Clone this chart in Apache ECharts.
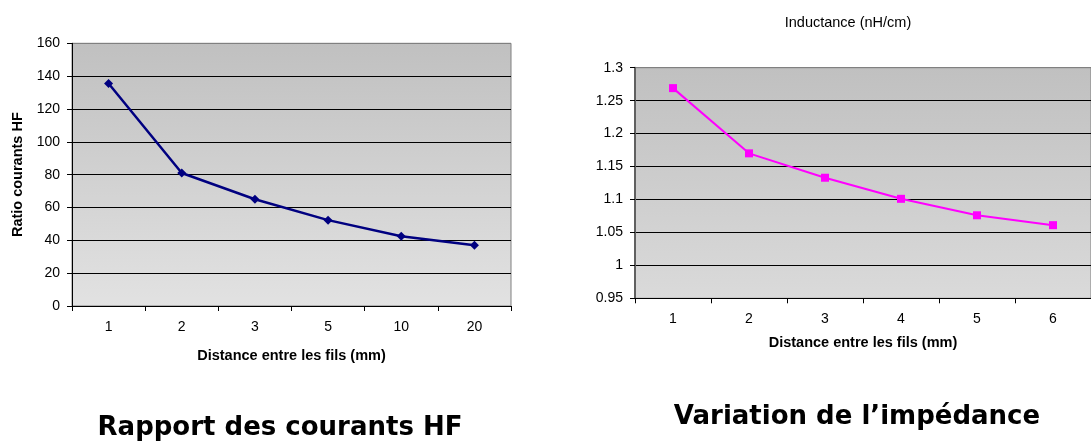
<!DOCTYPE html>
<html>
<head>
<meta charset="utf-8">
<script src="https://cdn.jsdelivr.net/npm/echarts@6/dist/echarts.min.js"></script>
<style>
html,body{margin:0;padding:0;background:#fff;}
#c{width:1091px;height:443px;}
</style>
</head>
<body>
<div id="c"></div>
<script>
const leftCategories = ['1', '2', '3', '5', '10', '20'];
const leftValues = [135.5, 81, 65, 52.3, 42.5, 37];
const leftTicks = [0, 160, 20];

const rightCategories = ['1', '2', '3', '4', '5', '6'];
const rightValues = [1.269, 1.170, 1.133, 1.101, 1.076, 1.061];
const rightTicks = [0.95, 1.3, 0.05];

const FONT = '"Liberation Sans", Arial, sans-serif';
const bg = (c1, c2) => ({type: 'linear', x: 0, y: 0, x2: 0, y2: 1,
  colorStops: [{offset: 0, color: c1}, {offset: 1, color: c2}]});

const chart = echarts.init(document.getElementById('c'), null, {renderer: 'canvas'});

const xAxisBase = (cats, gap) => ({
  type: 'category', data: cats, boundaryGap: true,
  axisLine: {show: true, lineStyle: {color: '#000', width: 1}},
  axisTick: {show: true, interval: 0, length: 5, lineStyle: {color: '#000'}},
  axisLabel: {color: '#000', fontSize: 14, fontFamily: FONT, margin: 14, interval: 0},
  splitLine: {show: false},
  name: 'Distance entre les fils (mm)', nameLocation: 'middle', nameGap: gap,
  nameTextStyle: {color: '#000', fontSize: 14.5, fontWeight: 'bold', fontFamily: FONT}
});

const leftSplitColors = [];
for (let v = leftTicks[0]; v <= leftTicks[1]; v += leftTicks[2]) leftSplitColors.push(v === leftTicks[1] ? '#808080' : '#000');
const rightSplitColors = [];
for (let i = 0; i <= Math.round((rightTicks[1] - rightTicks[0]) / rightTicks[2]); i++) rightSplitColors.push('#000');
rightSplitColors[rightSplitColors.length - 1] = '#808080';

chart.setOption({
  animation: false,
  backgroundColor: '#fff',
  grid: [
    {left: 72, top: 43.3, width: 439, height: 262.7, show: true,
     backgroundColor: bg('#c0c0c0', '#e2e2e2'), borderColor: '#808080', borderWidth: 1, containLabel: false},
    {left: 635, top: 67.7, width: 469, height: 230.6, show: true,
     backgroundColor: bg('#c0c0c0', '#dadada'), borderColor: '#808080', borderWidth: 1, containLabel: false}
  ],
  xAxis: [
    Object.assign(xAxisBase(leftCategories, 42), {gridIndex: 0}),
    Object.assign(xAxisBase(rightCategories, 37), {gridIndex: 1})
  ],
  yAxis: [
    {gridIndex: 0, type: 'value', min: leftTicks[0], max: leftTicks[1], interval: leftTicks[2],
     axisLine: {show: true, lineStyle: {color: '#000', width: 1}},
     axisTick: {show: true, length: 5, lineStyle: {color: '#000'}},
     axisLabel: {color: '#000', fontSize: 14, fontFamily: FONT, margin: 12},
     splitLine: {show: true, lineStyle: {color: leftSplitColors, width: 1}},
     name: 'Ratio courants HF', nameLocation: 'middle', nameGap: 47,
     nameTextStyle: {color: '#000', fontSize: 14.5, fontWeight: 'bold', fontFamily: FONT}},
    {gridIndex: 1, type: 'value', min: rightTicks[0], max: rightTicks[1], interval: rightTicks[2],
     axisLine: {show: true, lineStyle: {color: '#606060', width: 2}},
     axisTick: {show: true, length: 5, lineStyle: {color: '#000'}},
     axisLabel: {color: '#000', fontSize: 14, fontFamily: FONT, margin: 12},
     splitLine: {show: true, lineStyle: {color: rightSplitColors, width: 1}}}
  ],
  series: [
    {type: 'line', xAxisIndex: 0, yAxisIndex: 0, data: leftValues,
     symbol: 'diamond', symbolSize: 9, showAllSymbol: true,
     lineStyle: {color: '#000080', width: 2.5}, itemStyle: {color: '#000080'}},
    {type: 'line', xAxisIndex: 1, yAxisIndex: 1, data: rightValues,
     symbol: 'rect', symbolSize: 8, showAllSymbol: true,
     lineStyle: {color: '#ff00ff', width: 2}, itemStyle: {color: '#ff00ff'}}
  ],
  graphic: [
    {type: 'text', left: 'center', x: 0, style: {}, silent: true, invisible: true},
    {type: 'text', x: 848, y: 23, silent: true,
     style: {text: 'Inductance (nH/cm)', fill: '#000', font: '14.5px ' + FONT, align: 'center', verticalAlign: 'middle'}},
    {type: 'text', x: 280, y: 428, silent: true,
     style: {text: 'Rapport des courants HF', fill: '#000', font: 'bold 26px "DejaVu Sans", Verdana, sans-serif', align: 'center', verticalAlign: 'middle'}},
    {type: 'text', x: 857, y: 417, silent: true,
     style: {text: 'Variation de l\u2019impédance', fill: '#000', font: 'bold 26px "DejaVu Sans", Verdana, sans-serif', align: 'center', verticalAlign: 'middle'}}
  ]
});
</script>
</body>
</html>
